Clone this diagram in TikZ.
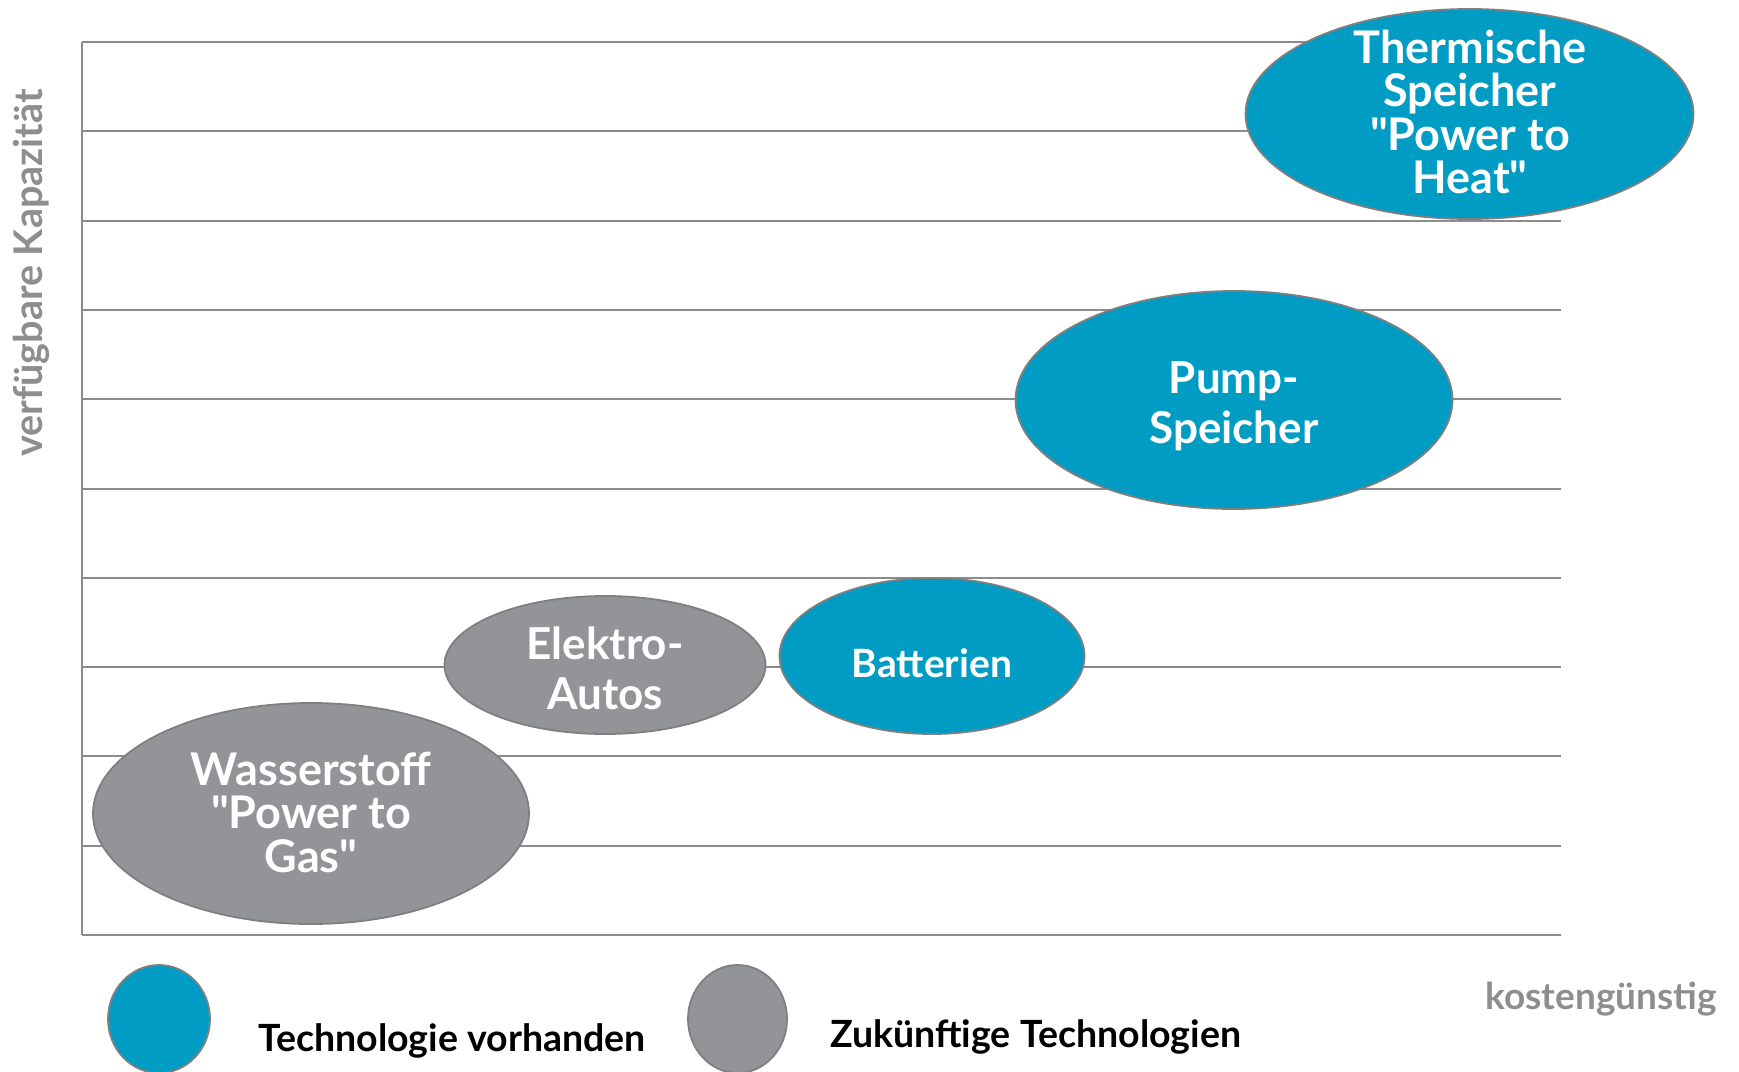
\documentclass[tikz,border=0pt]{standalone}
\usepackage{fontspec}
\setmainfont{Lato}[Ligatures=TeXOff]
\usetikzlibrary{shapes.geometric}
\definecolor{techblue}{HTML}{009CC4}
\definecolor{techgray}{HTML}{929497}
\definecolor{edgegray}{HTML}{7F7F7F}
\definecolor{gridgray}{HTML}{8C8C8C}
\definecolor{labelgray}{HTML}{8E8E8E}
\begin{document}
\begin{tikzpicture}[x=1pt,y=-1pt,
  gridline/.style={draw=gridgray,line width=2pt},
  bubble/.style={ellipse,draw=edgegray,line width=1.8pt,inner sep=0pt},
  cur/.style={bubble,fill=techblue},
  fut/.style={bubble,fill=techgray},
  bubtext/.style={text=white,align=center,inner sep=0pt},
  big/.style={font=\bfseries\fontsize{45}{43.5}\selectfont},
  mid/.style={font=\bfseries\fontsize{44}{50}\selectfont},
  small/.style={font=\bfseries\fontsize{39}{40}\selectfont},
  legtext/.style={text=black,font=\bfseries\fontsize{37.5}{40}\selectfont,anchor=west,inner sep=0pt},
  axtext/.style={text=labelgray,font=\bfseries\fontsize{37}{40}\selectfont,inner sep=0pt}]
\useasboundingbox (0,0) rectangle (1739,1071);

% grid
\foreach \k in {0,...,10}{
  \draw[gridline] (82,{42+89.3*\k}) -- (1561,{42+89.3*\k});
}
\draw[gridline] (82,42) -- (82,935);

% bubbles
\node[cur, minimum width=448, minimum height=210] (therm) at (1469.5,114) {};
\node[bubtext,big] (thermT) at (1470,112) {Thermische\\Speicher\\"Power to\\Heat"};

\node[cur, minimum width=437, minimum height=218] (pump) at (1234,400) {};
\node[bubtext,mid] (pumpT) at (1234,406) {Pump-\\Speicher};

\node[cur, minimum width=305, minimum height=156] (batt) at (932,656) {};
\node[bubtext,small] (battT) at (932,663) {Batterien};

\node[fut, minimum width=321, minimum height=138] (auto) at (605,665) {};
\node[bubtext,mid] (autoT) at (605,668) {Elektro-\\Autos};

\node[fut, minimum width=436, minimum height=221] (wass) at (311,813.5) {};
\node[bubtext,big] (wassT) at (311,812) {Wasserstoff\\"Power to\\Gas"};

% legend
\node[cur, minimum width=102, minimum height=108] (legcur) at (159,1019) {};
\node[legtext] (legcurT) at (258,1041) {Technologie vorhanden};
\node[fut, minimum width=99, minimum height=108] (legfut) at (737.5,1019) {};
\node[legtext] (legfutT) at (830,1037) {Zukünftige Technologien};

% axis labels
\node[axtext,anchor=east] (xlab) at (1717,999) {kostengünstig};
\node[axtext,rotate=90,font=\bfseries\fontsize{39.5}{40}\selectfont] (ylab) at (31,273) {verfügbare Kapazität};
\end{tikzpicture}
\end{document}
